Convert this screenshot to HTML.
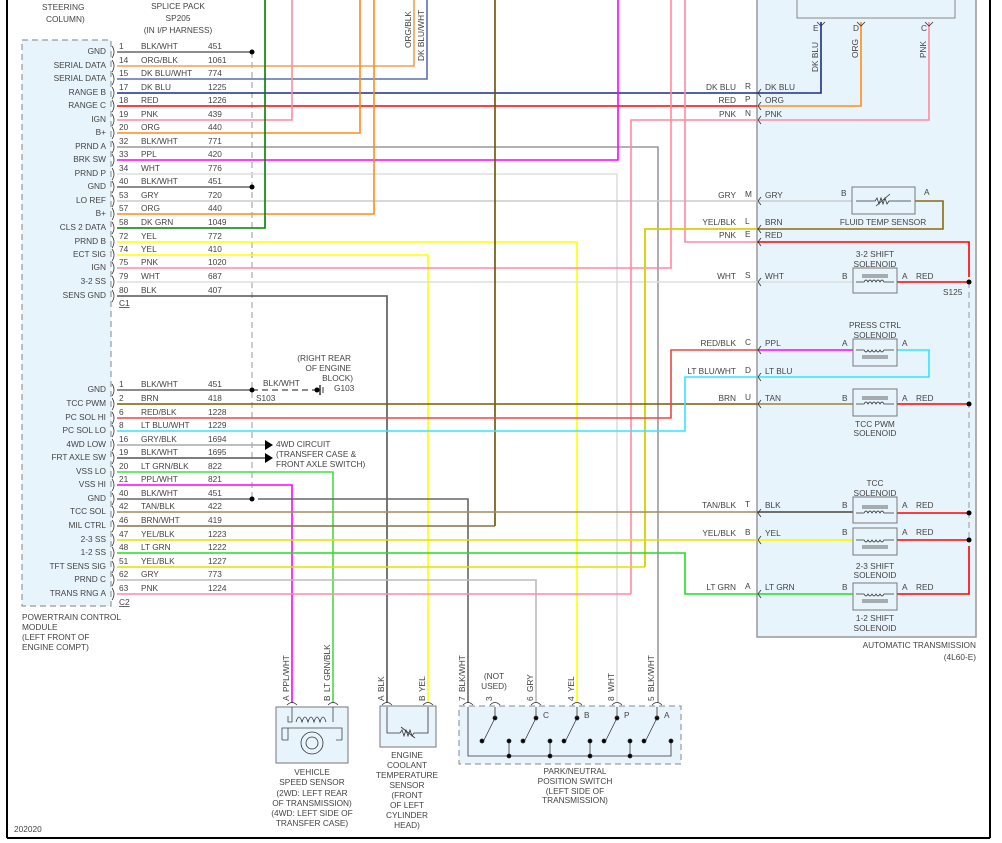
<!DOCTYPE html>
<html><head><meta charset="utf-8"><style>
html,body{margin:0;padding:0;background:#fff}
svg{display:block}
text{font-family:"Liberation Sans",sans-serif;font-size:8.3px;fill:#444}
.r{text-anchor:end}.m{text-anchor:middle}
</style></head><body>
<svg width="1002" height="843" viewBox="0 0 1002 843" xmlns="http://www.w3.org/2000/svg">
<rect width="1002" height="843" fill="#fff"/>
<line x1="7" y1="0" x2="7" y2="838" stroke="#000" stroke-width="2"/>
<line x1="990" y1="0" x2="990" y2="838" stroke="#000" stroke-width="2"/>
<line x1="7" y1="838" x2="990" y2="838" stroke="#000" stroke-width="2"/>

<!-- boxes -->
<rect x="757" y="-2" width="219" height="639" fill="#e8f4fb" stroke="#999" stroke-width="1.5"/>
<rect x="797" y="-2" width="158" height="20" fill="#e8f4fb" stroke="#888"/>
<rect x="22" y="40" width="89" height="566" fill="#e8f4fb" stroke="#999" stroke-width="1.2" stroke-dasharray="6,4"/>
<rect x="276" y="707" width="72" height="56" fill="#e8f4fb" stroke="#777"/>
<rect x="380" y="706" width="56" height="41" fill="#e8f4fb" stroke="#777"/>
<rect x="459" y="706" width="222" height="58" fill="#e8f4fb" stroke="#888" stroke-dasharray="6,4"/>

<!-- top texts -->
<text x="42" y="10">STEERING</text><text x="46" y="22">COLUMN)</text>
<text x="178" y="9" class="m">SPLICE PACK</text><text x="178" y="21" class="m">SP205</text><text x="178" y="33" class="m">(IN I/P HARNESS)</text>

<!-- splice dashed -->
<line x1="252" y1="52" x2="252" y2="499" stroke="#999" stroke-dasharray="6,4"/>

<g fill="none" stroke-width="1.6">
<!-- upper wires -->
<polyline points="117,52 252,52" stroke="#666"/>
<polyline points="117,66 414,66 414,0" stroke="#f0a050"/>
<polyline points="117,79 427,79 427,0" stroke="#5a6fb0"/>
<polyline points="117,93 821,93 821,22" stroke="#1a2f8a"/>
<polyline points="117,106 757,106" stroke="#ff0000"/>
<polyline points="757,106 861,106 861,22" stroke="#ff8c1a"/>
<polyline points="117,120 292,120 292,0" stroke="#ff8aa0"/>
<polyline points="117,133 360,133 360,0" stroke="#ff8c1a"/>
<polyline points="117,147 658,147 658,703" stroke="#999"/>
<polyline points="117,160 618,160 618,0" stroke="#ff00ff"/>
<polyline points="117,174 617,174 617,703" stroke="#ddd"/>
<polyline points="117,187 252,187" stroke="#666"/>
<polyline points="117,201 852,201" stroke="#ccc"/>
<polyline points="117,214 374,214 374,0" stroke="#ff8c1a"/>
<polyline points="117,228 265,228 265,0" stroke="#008000"/>
<polyline points="117,242 577,242 577,703" stroke="#ffff00"/>
<polyline points="117,255 428,255 428,703" stroke="#ffff00"/>
<polyline points="117,268 671,268 671,0" stroke="#ff8aa0"/>
<polyline points="117,282 853,282" stroke="#ddd"/>
<polyline points="117,296 387,296 387,703" stroke="#555"/>
<polyline points="495,0 495,526" stroke="#6b5000"/>
<polyline points="929,22 929,120 631,120 631,594" stroke="#ff8aa0"/>
<polyline points="685,0 685,242 757,242" stroke="#ff8aa0"/>
<polyline points="757,242 969,242 969,277" stroke="#ff0000"/>
<polyline points="645,567 645,229 943,229 943,201 915,201" stroke="#8a6a10"/>
<polyline points="645,567 645,229 757,229" stroke="#e0e000"/>
<!-- lower -->
<polyline points="117,390 252,390" stroke="#666"/>
<polyline points="117,404 853,404" stroke="#7a5a00"/>
<polyline points="757,404 853,404" stroke="#b09a60"/>
<polyline points="117,418 671,418 671,350 757,350" stroke="#e84848"/>
<polyline points="757,350 853,350" stroke="#ff00ff"/>
<polyline points="117,431 685,431 685,377 929,377 929,350 897,350" stroke="#33e5ff"/>
<polyline points="117,445 265,445" stroke="#aaa"/>
<polyline points="117,458 265,458" stroke="#555"/>
<polyline points="117,472 333,472 333,703" stroke="#44dd44"/>
<polyline points="117,485 292,485 292,703" stroke="#ff00ff"/>
<polyline points="117,499 252,499" stroke="#666"/>
<polyline points="258,499 468,499 468,703" stroke="#666"/>
<polyline points="117,512 853,512" stroke="#a08c60"/>
<polyline points="757,512 853,512" stroke="#555"/>
<polyline points="117,526 495,526" stroke="#8a7040"/>
<polyline points="117,540 853,540" stroke="#e0e000"/>
<polyline points="757,540 853,540" stroke="#ffff00"/>
<polyline points="117,553 685,553 685,594 853,594" stroke="#22dd22"/>
<polyline points="117,567 645,567" stroke="#e0e000"/>
<polyline points="117,580 536,580 536,703" stroke="#bbb"/>
<polyline points="117,594 631,594" stroke="#ff8aa0"/>
<!-- red solenoid returns -->
<polyline points="897,282 969,282" stroke="#ff0000"/>
<polyline points="897,404 969,404" stroke="#ff0000"/>
<polyline points="897,513 969,513" stroke="#ff0000"/>
<polyline points="897,540 969,540" stroke="#ff0000"/>
<polyline points="969,546 969,594 897,594" stroke="#ff0000"/>
</g>
<line x1="969" y1="282" x2="969" y2="540" stroke="#999" stroke-dasharray="6,4"/>
<line x1="252" y1="390" x2="318" y2="390" stroke="#666" stroke-width="1.5" stroke-dasharray="6,4"/>
<line x1="320" y1="385" x2="320" y2="395" stroke="#333" stroke-width="1.5"/><line x1="323" y1="387" x2="323" y2="393" stroke="#333"/>
<g fill="#000"><circle cx="252" cy="52" r="2.5"/><circle cx="252" cy="187" r="2.5"/><circle cx="252" cy="390" r="2.5"/><circle cx="252" cy="499" r="2.5"/><circle cx="317" cy="390" r="2.5"/><circle cx="969" cy="282" r="2.5"/><circle cx="969" cy="404" r="2.5"/><circle cx="969" cy="513" r="2.5"/><circle cx="969" cy="540" r="2.5"/>
<polygon points="265,440 273,445 265,450"/><polygon points="265,453 273,458 265,463"/></g>

<!-- component boxes in trans -->
<g fill="#e8f4fb" stroke="#777">
<rect x="852" y="187" width="63" height="27"/>
<rect x="853" y="268" width="44" height="25"/>
<rect x="853" y="339" width="44" height="27"/>
<rect x="853" y="389" width="44" height="27"/>
<rect x="853" y="497" width="44" height="26"/>
<rect x="853" y="528" width="44" height="27"/>
<rect x="853" y="583" width="44" height="27"/>
</g>
<g stroke="#333" fill="none" stroke-width="0.8">
<path d="M856,201 H875 l2,-3 2,6 2,-6 2,6 2,-6 2,6 2,-3 H911"/><line x1="876" y1="206" x2="890" y2="194"/>
<path d="M856,282 H864 q2,-4 4,0 q2,-4 4,0 q2,-4 4,0 q2,-4 4,0 q2,-4 4,0 H894 M862,275 H888 M862,277 H888"/>
<path d="M856,350 H864 q2,4 4,0 q2,4 4,0 q2,4 4,0 q2,4 4,0 q2,4 4,0 H894 M862,356 H888 M862,358 H888"/>
<path d="M856,404 H864 q2,-4 4,0 q2,-4 4,0 q2,-4 4,0 q2,-4 4,0 q2,-4 4,0 H894 M862,397 H888 M862,399 H888"/>
<path d="M856,513 H864 q2,-4 4,0 q2,-4 4,0 q2,-4 4,0 q2,-4 4,0 q2,-4 4,0 H894 M862,506 H888 M862,508 H888"/>
<path d="M856,540 H864 q2,4 4,0 q2,4 4,0 q2,4 4,0 q2,4 4,0 q2,4 4,0 H894 M862,546 H888 M862,548 H888"/>
<path d="M856,594 H864 q2,4 4,0 q2,4 4,0 q2,4 4,0 q2,4 4,0 q2,4 4,0 H894 M862,600 H888 M862,602 H888"/>
<!-- connector marks -->
<path d="M761,89 l-3,4 3,4 M761,102 l-3,4 3,4 M761,116 l-3,4 3,4 M761,197 l-3,4 3,4 M761,225 l-3,4 3,4 M761,238 l-3,4 3,4 M761,278 l-3,4 3,4 M761,346 l-3,4 3,4 M761,373 l-3,4 3,4 M761,400 l-3,4 3,4 M761,509 l-3,4 3,4 M761,536 l-3,4 3,4 M761,590 l-3,4 3,4"/>
<path d="M817,22 l4,4 4,-4 M857,22 l4,4 4,-4 M925,22 l4,4 4,-4"/>
<!-- PCM connector marks -->
<path d="M112,46 q4,6 0,12 M112,60 q4,6 0,12 M112,73 q4,6 0,12 M112,87 q4,6 0,12 M112,100 q4,6 0,12 M112,114 q4,6 0,12 M112,127 q4,6 0,12 M112,141 q4,6 0,12 M112,154 q4,6 0,12 M112,168 q4,6 0,12 M112,181 q4,6 0,12 M112,195 q4,6 0,12 M112,208 q4,6 0,12 M112,222 q4,6 0,12 M112,236 q4,6 0,12 M112,249 q4,6 0,12 M112,262 q4,6 0,12 M112,276 q4,6 0,12 M112,290 q4,6 0,12"/>
<path d="M112,384 q4,6 0,12 M112,398 q4,6 0,12 M112,412 q4,6 0,12 M112,425 q4,6 0,12 M112,439 q4,6 0,12 M112,452 q4,6 0,12 M112,466 q4,6 0,12 M112,479 q4,6 0,12 M112,493 q4,6 0,12 M112,506 q4,6 0,12 M112,520 q4,6 0,12 M112,534 q4,6 0,12 M112,547 q4,6 0,12 M112,561 q4,6 0,12 M112,574 q4,6 0,12 M112,588 q4,6 0,12"/>
<!-- bottom pin marks -->
<path d="M287,705 q5,-5 10,0 M328,705 q5,-5 10,0 M382,705 q5,-5 10,0 M423,705 q5,-5 10,0 M463,705 q5,-5 10,0 M490,705 q5,-5 10,0 M531,705 q5,-5 10,0 M572,705 q5,-5 10,0 M612,705 q5,-5 10,0 M652,705 q5,-5 10,0"/>
<!-- VSS -->
<path d="M292,707 V722 H288 V716 M333,707 V722 M282,740 V728 H342 V740" stroke="#444"/>
<path d="M282,740 H288 V728 M342,740 H336" stroke="#444"/>
<path d="M296,722 q3,-10 6,0 q3,-10 6,0 q3,-10 6,0 q3,-10 6,0 q3,-10 6,0"/>
<circle cx="312" cy="743" r="11"/><circle cx="312" cy="743" r="6"/>
<!-- ECT -->
<path d="M387,707 V733 H400 l2,-3 2,6 2,-6 2,6 2,-6 2,6 2,-3 H428 V707"/><line x1="401" y1="727" x2="415" y2="738"/>
<!-- PNP -->
<path d="M468,707 V756 H671 V741"/>
</g>
<g stroke="#333" stroke-width="0.8" fill="#000">
<g><line x1="495" y1="718" x2="484" y2="740"/><circle cx="495" cy="718" r="2"/><circle cx="482" cy="741" r="2"/><line x1="509" y1="741" x2="509" y2="756"/><circle cx="509" cy="741" r="2"/><circle cx="509" cy="756" r="2"/><line x1="495" y1="707" x2="495" y2="718"/></g>
<g><line x1="536" y1="718" x2="525" y2="740"/><circle cx="536" cy="718" r="2"/><circle cx="523" cy="741" r="2"/><line x1="550" y1="741" x2="550" y2="756"/><circle cx="550" cy="741" r="2"/><circle cx="550" cy="756" r="2"/><line x1="536" y1="707" x2="536" y2="718"/></g>
<g><line x1="577" y1="718" x2="566" y2="740"/><circle cx="577" cy="718" r="2"/><circle cx="564" cy="741" r="2"/><line x1="590" y1="741" x2="590" y2="756"/><circle cx="590" cy="741" r="2"/><circle cx="590" cy="756" r="2"/><line x1="577" y1="707" x2="577" y2="718"/></g>
<g><line x1="617" y1="718" x2="606" y2="740"/><circle cx="617" cy="718" r="2"/><circle cx="604" cy="741" r="2"/><line x1="630" y1="741" x2="630" y2="756"/><circle cx="630" cy="741" r="2"/><circle cx="630" cy="756" r="2"/><line x1="617" y1="707" x2="617" y2="718"/></g>
<g><line x1="657" y1="718" x2="646" y2="740"/><circle cx="657" cy="718" r="2"/><circle cx="644" cy="741" r="2"/><circle cx="671" cy="741" r="2"/><line x1="657" y1="707" x2="657" y2="718"/></g>
</g>

<!-- PCM labels -->
<g class="r">
<text x="106" y="54" class="r">GND</text><text x="106" y="68" class="r">SERIAL DATA</text><text x="106" y="81" class="r">SERIAL DATA</text><text x="106" y="95" class="r">RANGE B</text><text x="106" y="108" class="r">RANGE C</text><text x="106" y="122" class="r">IGN</text><text x="106" y="135" class="r">B+</text><text x="106" y="149" class="r">PRND A</text><text x="106" y="162" class="r">BRK SW</text><text x="106" y="176" class="r">PRND P</text><text x="106" y="189" class="r">GND</text><text x="106" y="203" class="r">LO REF</text><text x="106" y="216" class="r">B+</text><text x="106" y="230" class="r">CLS 2 DATA</text><text x="106" y="244" class="r">PRND B</text><text x="106" y="257" class="r">ECT SIG</text><text x="106" y="270" class="r">IGN</text><text x="106" y="284" class="r">3-2 SS</text><text x="106" y="298" class="r">SENS GND</text>
<text x="106" y="392" class="r">GND</text><text x="106" y="406" class="r">TCC PWM</text><text x="106" y="420" class="r">PC SOL HI</text><text x="106" y="433" class="r">PC SOL LO</text><text x="106" y="447" class="r">4WD LOW</text><text x="106" y="460" class="r">FRT AXLE SW</text><text x="106" y="474" class="r">VSS LO</text><text x="106" y="487" class="r">VSS HI</text><text x="106" y="501" class="r">GND</text><text x="106" y="514" class="r">TCC SOL</text><text x="106" y="528" class="r">MIL CTRL</text><text x="106" y="542" class="r">2-3 SS</text><text x="106" y="555" class="r">1-2 SS</text><text x="106" y="569" class="r">TFT SENS SIG</text><text x="106" y="582" class="r">PRND C</text><text x="106" y="596" class="r">TRANS RNG A</text>
</g>
<!-- pin numbers / colors / circuits -->
<g>
<text x="119" y="49">1</text><text x="141" y="49">BLK/WHT</text><text x="208" y="49">451</text>
<text x="119" y="63">14</text><text x="141" y="63">ORG/BLK</text><text x="208" y="63">1061</text>
<text x="119" y="76">15</text><text x="141" y="76">DK BLU/WHT</text><text x="208" y="76">774</text>
<text x="119" y="90">17</text><text x="141" y="90">DK BLU</text><text x="208" y="90">1225</text>
<text x="119" y="103">18</text><text x="141" y="103">RED</text><text x="208" y="103">1226</text>
<text x="119" y="117">19</text><text x="141" y="117">PNK</text><text x="208" y="117">439</text>
<text x="119" y="130">20</text><text x="141" y="130">ORG</text><text x="208" y="130">440</text>
<text x="119" y="144">32</text><text x="141" y="144">BLK/WHT</text><text x="208" y="144">771</text>
<text x="119" y="157">33</text><text x="141" y="157">PPL</text><text x="208" y="157">420</text>
<text x="119" y="171">34</text><text x="141" y="171">WHT</text><text x="208" y="171">776</text>
<text x="119" y="184">40</text><text x="141" y="184">BLK/WHT</text><text x="208" y="184">451</text>
<text x="119" y="198">53</text><text x="141" y="198">GRY</text><text x="208" y="198">720</text>
<text x="119" y="211">57</text><text x="141" y="211">ORG</text><text x="208" y="211">440</text>
<text x="119" y="225">58</text><text x="141" y="225">DK GRN</text><text x="208" y="225">1049</text>
<text x="119" y="239">72</text><text x="141" y="239">YEL</text><text x="208" y="239">772</text>
<text x="119" y="252">74</text><text x="141" y="252">YEL</text><text x="208" y="252">410</text>
<text x="119" y="265">75</text><text x="141" y="265">PNK</text><text x="208" y="265">1020</text>
<text x="119" y="279">79</text><text x="141" y="279">WHT</text><text x="208" y="279">687</text>
<text x="119" y="293">80</text><text x="141" y="293">BLK</text><text x="208" y="293">407</text>
<text x="119" y="306" text-decoration="underline">C1</text>
<text x="119" y="387">1</text><text x="141" y="387">BLK/WHT</text><text x="208" y="387">451</text>
<text x="119" y="401">2</text><text x="141" y="401">BRN</text><text x="208" y="401">418</text>
<text x="119" y="415">6</text><text x="141" y="415">RED/BLK</text><text x="208" y="415">1228</text>
<text x="119" y="428">8</text><text x="141" y="428">LT BLU/WHT</text><text x="208" y="428">1229</text>
<text x="119" y="442">16</text><text x="141" y="442">GRY/BLK</text><text x="208" y="442">1694</text>
<text x="119" y="455">19</text><text x="141" y="455">BLK/WHT</text><text x="208" y="455">1695</text>
<text x="119" y="469">20</text><text x="141" y="469">LT GRN/BLK</text><text x="208" y="469">822</text>
<text x="119" y="482">21</text><text x="141" y="482">PPL/WHT</text><text x="208" y="482">821</text>
<text x="119" y="496">40</text><text x="141" y="496">BLK/WHT</text><text x="208" y="496">451</text>
<text x="119" y="509">42</text><text x="141" y="509">TAN/BLK</text><text x="208" y="509">422</text>
<text x="119" y="523">46</text><text x="141" y="523">BRN/WHT</text><text x="208" y="523">419</text>
<text x="119" y="537">47</text><text x="141" y="537">YEL/BLK</text><text x="208" y="537">1223</text>
<text x="119" y="550">48</text><text x="141" y="550">LT GRN</text><text x="208" y="550">1222</text>
<text x="119" y="564">51</text><text x="141" y="564">YEL/BLK</text><text x="208" y="564">1227</text>
<text x="119" y="577">62</text><text x="141" y="577">GRY</text><text x="208" y="577">773</text>
<text x="119" y="591">63</text><text x="141" y="591">PNK</text><text x="208" y="591">1224</text>
<text x="119" y="605" text-decoration="underline">C2</text>
</g>
<text x="22" y="620">POWERTRAIN CONTROL</text><text x="22" y="630">MODULE</text><text x="22" y="640">(LEFT FRONT OF</text><text x="22" y="650">ENGINE COMPT)</text>
<text x="14" y="832">202020</text>
<text x="263" y="386">BLK/WHT</text><text x="256" y="401">S103</text>
<text x="351" y="361" class="r">(RIGHT REAR</text><text x="351" y="371" class="r">OF ENGINE</text><text x="353" y="381" class="r">BLOCK)</text><text x="334" y="391">G103</text>
<text x="276" y="447">4WD CIRCUIT</text><text x="276" y="457">(TRANSFER CASE &amp;</text><text x="276" y="467">FRONT AXLE SWITCH)</text>

<!-- vertical labels top -->
<text transform="translate(411,48) rotate(-90)">ORG/BLK</text>
<text transform="translate(424,61) rotate(-90)">DK BLU/WHT</text>
<text transform="translate(818,72) rotate(-90)">DK BLU</text>
<text transform="translate(858,58) rotate(-90)">ORG</text>
<text transform="translate(926,58) rotate(-90)">PNK</text>
<text x="813" y="31">E</text><text x="853" y="31">D</text><text x="921" y="31">C</text>

<!-- transmission left-side labels -->
<g>
<text x="736" y="90" class="r">DK BLU</text><text x="745" y="89">R</text><text x="765" y="90">DK BLU</text>
<text x="736" y="103" class="r">RED</text><text x="745" y="102">P</text><text x="765" y="103">ORG</text>
<text x="736" y="117" class="r">PNK</text><text x="745" y="116">N</text><text x="765" y="117">PNK</text>
<text x="736" y="198" class="r">GRY</text><text x="745" y="197">M</text><text x="765" y="198">GRY</text>
<text x="736" y="225" class="r">YEL/BLK</text><text x="745" y="224">L</text><text x="765" y="225">BRN</text>
<text x="736" y="238" class="r">PNK</text><text x="745" y="237">E</text><text x="765" y="238">RED</text>
<text x="736" y="279" class="r">WHT</text><text x="745" y="278">S</text><text x="765" y="279">WHT</text>
<text x="736" y="346" class="r">RED/BLK</text><text x="745" y="345">C</text><text x="765" y="346">PPL</text>
<text x="736" y="374" class="r">LT BLU/WHT</text><text x="745" y="373">D</text><text x="765" y="374">LT BLU</text>
<text x="736" y="401" class="r">BRN</text><text x="745" y="400">U</text><text x="765" y="401">TAN</text>
<text x="736" y="508" class="r">TAN/BLK</text><text x="745" y="507">T</text><text x="765" y="508">BLK</text>
<text x="736" y="536" class="r">YEL/BLK</text><text x="745" y="535">B</text><text x="765" y="536">YEL</text>
<text x="736" y="590" class="r">LT GRN</text><text x="745" y="589">A</text><text x="765" y="590">LT GRN</text>
</g>
<g>
<text x="841" y="196">B</text><text x="924" y="195">A</text><text x="883" y="225" class="m">FLUID TEMP SENSOR</text>
<text x="875" y="257" class="m">3-2 SHIFT</text><text x="875" y="267" class="m">SOLENOID</text>
<text x="842" y="279">B</text><text x="902" y="279">A</text><text x="916" y="279">RED</text><text x="943" y="295">S125</text>
<text x="875" y="328" class="m">PRESS CTRL</text><text x="875" y="338" class="m">SOLENOID</text>
<text x="842" y="346">A</text><text x="902" y="346">A</text>
<text x="842" y="401">B</text><text x="902" y="401">A</text><text x="916" y="401">RED</text>
<text x="875" y="427" class="m">TCC PWM</text><text x="875" y="436" class="m">SOLENOID</text>
<text x="875" y="486" class="m">TCC</text><text x="875" y="496" class="m">SOLENOID</text>
<text x="842" y="508">B</text><text x="902" y="508">A</text><text x="916" y="508">RED</text>
<text x="842" y="535">B</text><text x="902" y="535">A</text><text x="916" y="535">RED</text>
<text x="875" y="569" class="m">2-3 SHIFT</text><text x="875" y="578" class="m">SOLENOID</text>
<text x="842" y="590">B</text><text x="902" y="590">A</text><text x="916" y="590">RED</text>
<text x="875" y="621" class="m">1-2 SHIFT</text><text x="875" y="631" class="m">SOLENOID</text>
<text x="976" y="648" class="r">AUTOMATIC TRANSMISSION</text><text x="976" y="660" class="r">(4L60-E)</text>
</g>

<!-- bottom rotated labels -->
<g>
<text transform="translate(289,701) rotate(-90)">A</text><text transform="translate(289,692) rotate(-90)">PPL/WHT</text>
<text transform="translate(330,701) rotate(-90)">B</text><text transform="translate(330,692) rotate(-90)">LT GRN/BLK</text>
<text transform="translate(384,701) rotate(-90)">A</text><text transform="translate(384,692) rotate(-90)">BLK</text>
<text transform="translate(425,701) rotate(-90)">B</text><text transform="translate(425,692) rotate(-90)">YEL</text>
<text transform="translate(465,701) rotate(-90)">7</text><text transform="translate(465,692) rotate(-90)">BLK/WHT</text>
<text transform="translate(492,701) rotate(-90)">3</text>
<text x="494" y="679" class="m">(NOT</text><text x="494" y="689" class="m">USED)</text>
<text transform="translate(533,701) rotate(-90)">6</text><text transform="translate(533,692) rotate(-90)">GRY</text>
<text transform="translate(574,701) rotate(-90)">4</text><text transform="translate(574,692) rotate(-90)">YEL</text>
<text transform="translate(614,701) rotate(-90)">8</text><text transform="translate(614,692) rotate(-90)">WHT</text>
<text transform="translate(654,701) rotate(-90)">5</text><text transform="translate(654,692) rotate(-90)">BLK/WHT</text>
<text x="543" y="718">C</text><text x="584" y="718">B</text><text x="624" y="718">P</text><text x="664" y="718">A</text>
</g>
<g class="m">
<text x="312" y="775" class="m">VEHICLE</text><text x="312" y="785" class="m">SPEED SENSOR</text><text x="312" y="796" class="m">(2WD: LEFT REAR</text><text x="312" y="806" class="m">OF TRANSMISSION)</text><text x="312" y="816" class="m">(4WD: LEFT SIDE OF</text><text x="312" y="826" class="m">TRANSFER CASE)</text>
<text x="407" y="758" class="m">ENGINE</text><text x="407" y="768" class="m">COOLANT</text><text x="407" y="778" class="m">TEMPERATURE</text><text x="407" y="788" class="m">SENSOR</text><text x="407" y="798" class="m">(FRONT</text><text x="407" y="808" class="m">OF LEFT</text><text x="407" y="818" class="m">CYLINDER</text><text x="407" y="828" class="m">HEAD)</text>
<text x="575" y="774" class="m">PARK/NEUTRAL</text><text x="575" y="784" class="m">POSITION SWITCH</text><text x="575" y="794" class="m">(LEFT SIDE OF</text><text x="575" y="803" class="m">TRANSMISSION)</text>
</g>
</svg>
</body></html>
